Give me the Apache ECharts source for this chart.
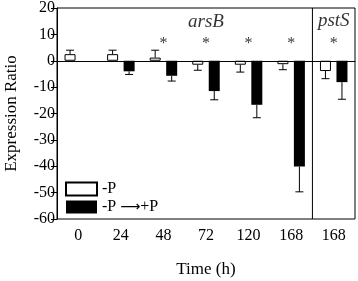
<!DOCTYPE html>
<html>
<head>
<meta charset="utf-8">
<script src="https://cdn.jsdelivr.net/npm/echarts@6/dist/echarts.min.js"></script>
<style>
html,body{margin:0;padding:0;background:#fff;}
#chart{width:358px;height:281px;}
</style>
</head>
<body>
<div id="chart"></div>
<script>
// time points (h); last one is pstS
var categories = ['0', '24', '48', '72', '120', '168', '168'];
var minusP = [2.5, 2.5, 1.2, -1.5, -1.5, -1.3, -3.9];
var minusPErr = [1.5, 1.5, 2.8, 2.1, 2.8, 2.1, 2.9];
var shiftP = [0, -4, -5.7, -11.5, -16.7, -40.1, -8.1];
var shiftPErr = [0, 1.2, 2.0, 3.3, 4.9, 9.6, 6.5];
// significance marks
var starIdx = [2, 3, 4, 5, 6];
var starY = 6.5;
// gene labels [index, y, text]
var geneLabels = [[3, 14.7, 'arsB'], [6, 14.9, 'pstS']];
// boundary between arsB and pstS groups (in category units)
var dividerAt = 6;

var font = 'Liberation Serif';

function errorBars(values, errs, offset) {
	return {
		type: 'custom',
		z: 3,
		silent: true,
		renderItem: function(params, api){
			var i = api.value(0), v = api.value(1), e = api.value(2);
			if (!e) return;
			var base = api.coord([i, v]);
			var end = api.coord([i, v >= 0 ? v + e : v - e]);
			var x = base[0] + offset;
			var st = {stroke: '#000', lineWidth: 1};
			return {
				type: 'group',
				children: [
					{type: 'line', shape: {x1: x, y1: base[1], x2: x, y2: end[1]}, style: st},
					{type: 'line', shape: {x1: x - 4, y1: end[1], x2: x + 4, y2: end[1]}, style: st}
				]
			};
		},
		data: values.map(function(v, i){ return [i, v, errs[i]]; })
	};
}

var myChart = echarts.init(document.getElementById('chart'));
var option = {
	animation: false,
	backgroundColor: '#fff',
	textStyle: {fontFamily: font, color: '#000'},
	grid: {
		left: 57, right: 3, top: 8, bottom: 62,
		outerBoundsMode: 'none',
		show: true, borderColor: '#000', borderWidth: 1
	},
	legend: {
		orient: 'vertical',
		left: 60, top: 176,
		itemWidth: 31, itemHeight: 13, itemGap: 2,
		icon: 'rect',
		textStyle: {
			fontFamily: font, fontSize: 16, color: '#000',
			rich: {arr: {fontFamily: 'DejaVu Sans', fontSize: 14, color: '#000'}}
		},
		formatter: function(name){
			return name === '-P' ? '-P' : '-P {arr|\u27F6}+P';
		},
		data: ['-P', '-P \u2192+P']
	},
	xAxis: [{
		type: 'category',
		data: categories,
		name: 'Time (h)',
		nameLocation: 'middle',
		nameGap: 42,
		nameTextStyle: {fontFamily: font, fontSize: 17, color: '#000'},
		axisLine: {lineStyle: {color: '#000', width: 1}},
		axisTick: {alignWithLabel: true, length: 5, lineStyle: {color: '#000'}},
		axisLabel: {fontFamily: font, fontSize: 16, color: '#000', margin: 9},
		splitLine: {show: false}
	}, {
		type: 'value',
		min: 0, max: categories.length,
		show: false
	}],
	yAxis: {
		type: 'value',
		min: -60, max: 20, interval: 10,
		name: 'Expression Ratio',
		nameLocation: 'middle',
		nameGap: 37,
		nameTextStyle: {fontFamily: font, fontSize: 17, color: '#000'},
		axisLine: {show: true, lineStyle: {color: '#000', width: 1}},
		axisTick: {show: true, length: 6, lineStyle: {color: '#000'}},
		axisLabel: {fontFamily: font, fontSize: 16, color: '#000', margin: 2},
		splitLine: {show: false}
	},
	series: [
		{
			name: '-P',
			type: 'bar',
			barWidth: 11,
			barGap: '50%',
			data: minusP,
			itemStyle: {color: '#fff', borderColor: '#000', borderWidth: 1},
			markLine: {
				silent: true,
				symbol: 'none',
				label: {show: false},
				lineStyle: {color: '#000', width: 1, type: 'solid'},
				data: [{yAxis: 0}]
			}
		},
		{
			name: '-P \u2192+P',
			type: 'bar',
			barWidth: 11,
			data: shiftP,
			itemStyle: {color: '#000', borderWidth: 0}
		},
		errorBars(minusP, minusPErr, -8.25),
		errorBars(shiftP, shiftPErr, 8.25),
		{
			type: 'line',
			xAxisIndex: 1,
			symbol: 'none',
			silent: true,
			lineStyle: {color: '#000', width: 1},
			data: [[dividerAt, -60], [dividerAt, 20]]
		},
		{
			type: 'scatter',
			symbolSize: 0,
			silent: true,
			data: starIdx.map(function(i){ return [i, starY]; }),
			label: {show: true, position: 'inside', formatter: '*', fontFamily: font, fontSize: 16, color: '#000'}
		},
		{
			type: 'scatter',
			symbolSize: 0,
			silent: true,
			data: geneLabels.map(function(g){ return {value: [g[0], g[1]], name: g[2]}; }),
			label: {show: true, position: 'inside', formatter: '{b}', fontFamily: font, fontSize: 19, fontStyle: 'italic', color: '#000'}
		}
	]
};
myChart.setOption(option);
</script>
</body>
</html>
